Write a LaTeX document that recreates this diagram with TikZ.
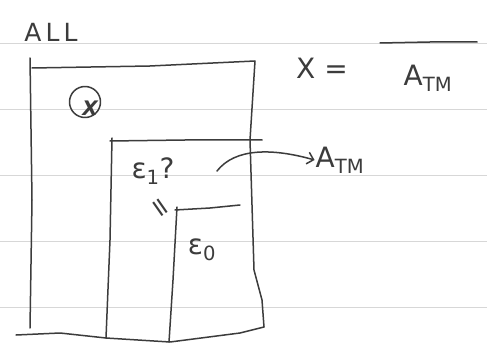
\documentclass[tikz,border=0pt]{standalone}
\usepackage{fontspec}
\setmainfont{DejaVu Sans}
\usepackage{xcolor}
\definecolor{pencil}{RGB}{60,60,60}
\definecolor{ruled}{RGB}{215,215,215}
\usetikzlibrary{arrows.meta,positioning}

\begin{document}
\begin{tikzpicture}[x=1pt, y=-1pt,
  stroke/.style={draw=pencil, line width=1.5pt, line cap=round, line join=round},
  hand/.style={text=pencil, inner sep=1pt, font=\fontsize{28}{32}\selectfont},
  small/.style={text=pencil, inner sep=1pt, font=\fontsize{24}{28}\selectfont},
  rule/.style={draw=ruled, line width=0.7pt}
]
  \useasboundingbox (0,0) rectangle (487,358);
  \fill[white] (0,0) rectangle (487,358);
  % ruled paper
  \foreach \y in {43,109,175,241,307}
    \draw[rule] (0,\y) -- (487,\y);

  % outer box: ALL
  \node[small, font=\fontsize{25}{28}\selectfont] (all) at (51,32) {A\,L\,L};
  \draw[stroke] (30,58) -- (32,200) -- (30,328);
  \draw[stroke] (32,68) -- (150,66) -- (255,61) -- (250,140) -- (254,270)
    -- (262,300) -- (264,327);
  \draw[stroke] (16,335) -- (60,333) -- (106,338) -- (170,342) -- (240,333) -- (264,327);
  \node[stroke, circle, minimum size=31pt, inner sep=0pt] (xc) at (85,102) {};
  \node[small, font=\fontsize{20}{22}\selectfont\bfseries\itshape] (xin) at (90,108) {X};

  % middle box: eps1
  \draw[stroke] (110,141) -- (185,140) -- (262,140);
  \draw[stroke] (112,138) -- (110,240) -- (106,338);
  \node[small, inner sep=0pt, font=\fontsize{28}{30}\selectfont] (eps1) at (153,171) {ε\textsubscript{1}?};
  \node[small, inner sep=0pt, rotate=-55, font=\fontsize{26}{26}\selectfont] (eq) at (159,209) {=};

  % inner box: eps0
  \draw[stroke] (175,210) -- (210,208) -- (240,205);
  \draw[stroke] (177,207) -- (173,280) -- (169,342);
  \node[small, font=\fontsize{28}{30}\selectfont] (eps0) at (202,250) {ε\textsubscript{0}};

  % arrow to A_TM
  \coordinate (src) at (217,171);
  \node[hand] (atm) at (340,160) {A\textsubscript{TM}};
  \draw[stroke, -{Straight Barb[length=6pt, width=12pt]}]
    (src) .. controls (235,148) and (272,148) .. (atm.west);

  % X = complement of A_TM
  \node[hand] (xeq) at (322,68) {X =};
  \node[hand] (atmbar) at (428,78) {A\textsubscript{TM}};
  \draw[stroke] (380,43) -- (430,42) -- (477,42);
\end{tikzpicture}
\end{document}
